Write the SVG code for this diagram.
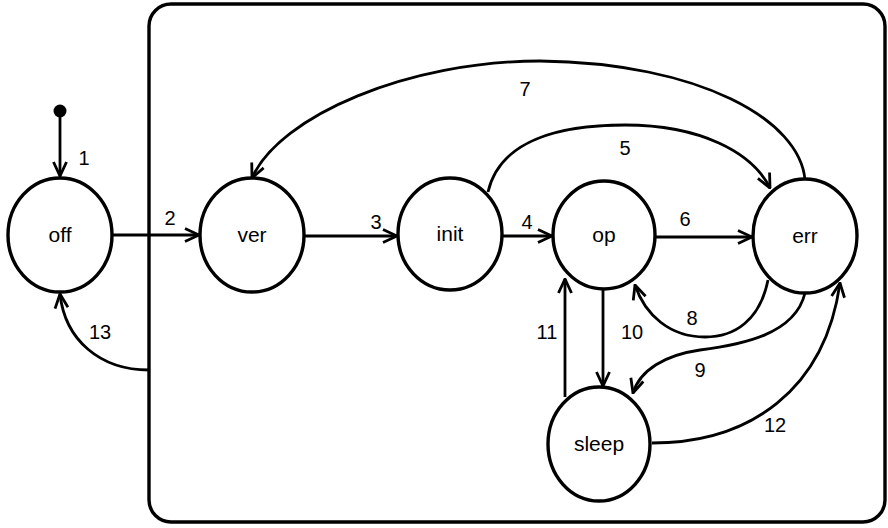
<svg xmlns="http://www.w3.org/2000/svg" width="888" height="528" viewBox="0 0 888 528">
<style>
.node{fill:#fff;stroke:#000;stroke-width:3.4}
.name{font-family:"Liberation Sans",Arial,sans-serif;font-size:21px;text-anchor:middle;fill:#000}
.lbl{font-family:"Liberation Sans",Arial,sans-serif;font-size:20px;text-anchor:middle;fill:#000}
.edge{fill:none;stroke:#000;stroke-width:2.8;marker-end:url(#arr)}
.box{fill:none;stroke:#000;stroke-width:3.4}
</style>
<defs>
<marker id="arr" markerUnits="userSpaceOnUse" viewBox="0 0 16 16" refX="15" refY="8" markerWidth="16" markerHeight="16" orient="auto">
<path d="M1,1.5 L15,8 L1,14.5" fill="none" stroke="#000" stroke-width="2.8"/>
</marker>
</defs>
<rect id="container" class="box" x="149" y="4" width="736" height="518" rx="22"/>
<circle id="start" cx="60" cy="111" r="6.5" fill="#000"/>
<g id="connectors">
<path class="edge" d="M60,117 L60,176"/>
<path class="edge" d="M112,235 L199,235"/>
<path class="edge" d="M305,236 L397,236"/>
<path class="edge" d="M503,236 L552,236"/>
<path class="edge" d="M655,237 L752,237"/>
<path class="edge" d="M488,192 C500,140 560,125 625,125 C700,125 752,152 770,188"/>
<path class="edge" d="M805,180 C800,120 700,63 540,61 C410,61 280,115 252,178"/>
<path class="edge" d="M768,280 C760,320 735,337 705,337 C670,337 645,315 635,285"/>
<path class="edge" d="M805,293 C795,335 740,345 700,350 C665,355 640,370 633,393"/>
<path class="edge" d="M603,288 L603,386"/>
<path class="edge" d="M565,397 L565,279"/>
<path class="edge" d="M652,443 C750,443 825,390 840,283"/>
<path class="edge" d="M149,370 C100,370 65,340 60,294"/>
<text class="lbl" x="84" y="165">1</text>
<text class="lbl" x="170" y="225">2</text>
<text class="lbl" x="376" y="229">3</text>
<text class="lbl" x="527" y="229">4</text>
<text class="lbl" x="625" y="155">5</text>
<text class="lbl" x="685" y="226">6</text>
<text class="lbl" x="525" y="96">7</text>
<text class="lbl" x="692" y="325">8</text>
<text class="lbl" x="700" y="377">9</text>
<text class="lbl" x="632" y="339">10</text>
<text class="lbl" x="547" y="339">11</text>
<text class="lbl" x="775" y="432">12</text>
<text class="lbl" x="100" y="339">13</text>
</g>
<g id="off"><ellipse class="node" cx="60" cy="235" rx="52" ry="57"/><text class="name" x="60" y="242">off</text></g>
<g id="ver"><ellipse class="node" cx="252" cy="235" rx="52" ry="57"/><text class="name" x="252" y="242">ver</text></g>
<g id="init"><ellipse class="node" cx="450" cy="234" rx="52" ry="56"/><text class="name" x="450" y="241">init</text></g>
<g id="op"><ellipse class="node" cx="604" cy="235" rx="51" ry="54"/><text class="name" x="604" y="242">op</text></g>
<g id="err"><ellipse class="node" cx="805" cy="236" rx="52" ry="57"/><text class="name" x="805" y="243">err</text></g>
<g id="sleep"><ellipse class="node" cx="599" cy="444" rx="51" ry="57"/><text class="name" x="599" y="451">sleep</text></g>
</svg>
